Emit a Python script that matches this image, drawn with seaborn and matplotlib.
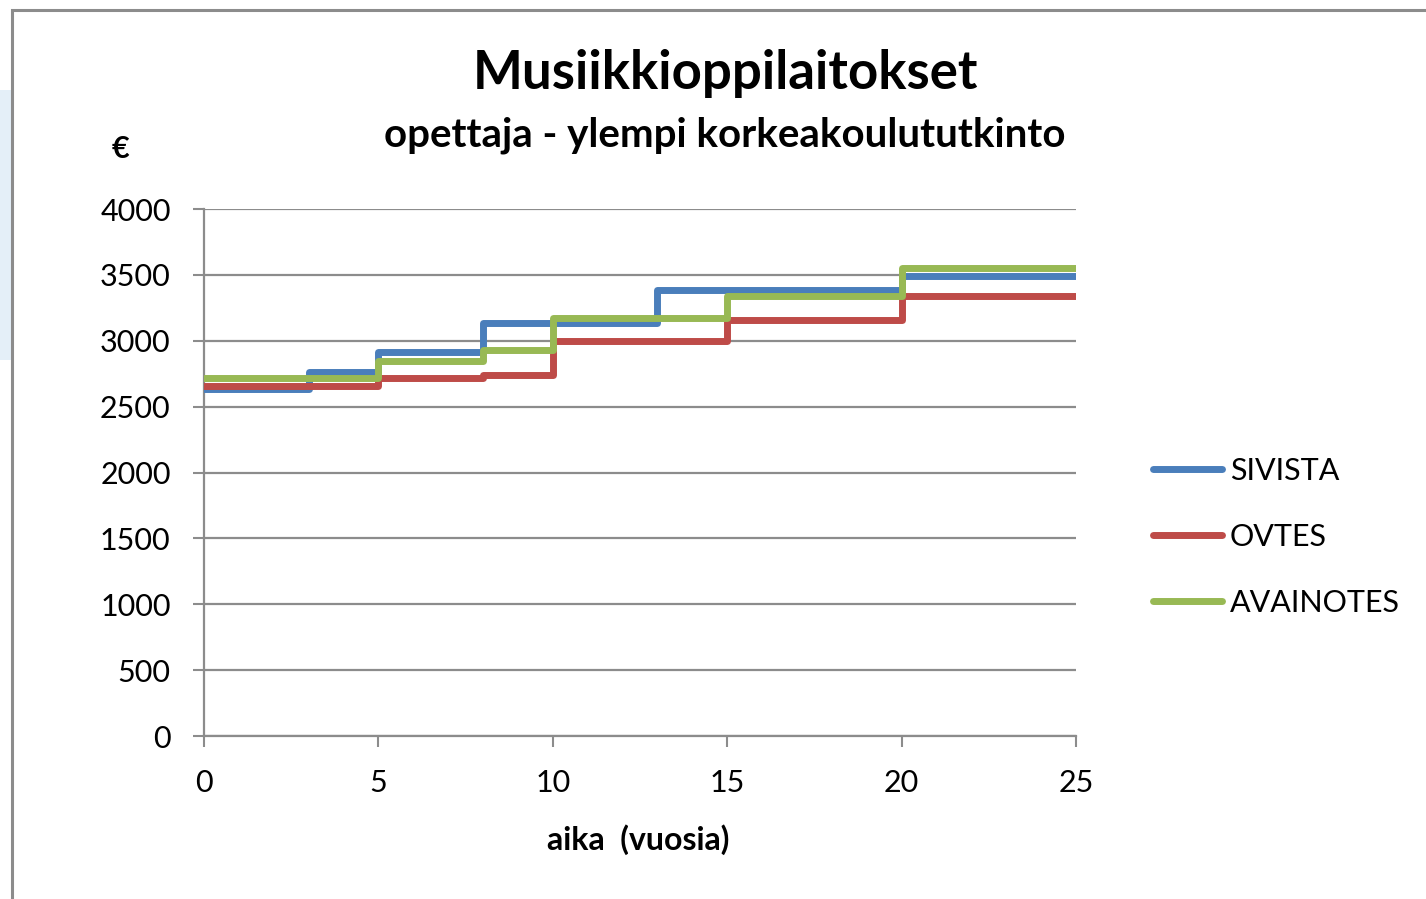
import pandas as pd
import numpy as np
import matplotlib
matplotlib.use("Agg")
import matplotlib.pyplot as plt
import seaborn as sns
from matplotlib.patches import Rectangle

# ==========================================
# Data (salary steps)
# ==========================================

years = [0, 3, 5, 8, 10, 13, 15, 20, 25]

sivista = [2630, 2760, 2915, 3135, 3135, 3385, 3385, 3490, 3490]
ovtes = [2655, 2655, 2720, 2740, 2995, 2995, 3155, 3340, 3340]
avainotes = [2715, 2715, 2845, 2930, 3170, 3170, 3340, 3550, 3550]

series_names = ["SIVISTA", "OVTES", "AVAINOTES"]
y_ticks = [0, 500, 1000, 1500, 2000, 2500, 3000, 3500, 4000]
x_ticks = [0, 5, 10, 15, 20, 25]

df = pd.DataFrame({
    "aika": years * 3,
    "palkka": sivista + ovtes + avainotes,
    "sarja": [n for n in series_names for _ in years],
})

palette = {
    "SIVISTA": "#4a7ebb",
    "OVTES": "#be4b48",
    "AVAINOTES": "#98b954",
}

# ==========================================
# Figure
# ==========================================

sns.set_theme(style="white")
plt.rcParams["font.family"] = ["Lato", "DejaVu Sans"]
plt.rcParams["text.color"] = "black"
plt.rcParams["axes.labelcolor"] = "black"

fig = plt.figure(figsize=(14.26, 8.99), dpi=100)

# light blue strip and chart frame
fig.patches.append(Rectangle((0, 1 - 360 / 899), 12 / 1426, 270 / 899,
                             transform=fig.transFigure, facecolor="#e4eff8",
                             edgecolor="none", zorder=0))
fig.patches.append(Rectangle((12 / 1426, -0.05), 1.1, 1 - 10 / 899 + 0.05,
                             transform=fig.transFigure, facecolor="none",
                             edgecolor="#8c8c8c", linewidth=2.2, zorder=1))

ax = fig.add_axes([204 / 1426, 1 - 736 / 899, 872 / 1426, 527 / 899])
ax.patch.set_alpha(0)

sns.lineplot(
    data=df,
    x="aika",
    y="palkka",
    hue="sarja",
    hue_order=series_names,
    palette=palette,
    drawstyle="steps-post",
    linewidth=5,
    ax=ax,
    zorder=3,
)

ax.set_xlim(0, 25)
ax.set_ylim(0, 4000)
ax.set_xticks(x_ticks)
ax.set_yticks(y_ticks)
ax.tick_params(axis="both", labelsize=22, colors="#8c8c8c", labelcolor="black",
               length=8, width=1.5, direction="out", left=True, bottom=True)
ax.tick_params(axis="x", pad=16)
ax.tick_params(axis="y", pad=16)

ax.yaxis.grid(True, color="#8c8c8c", linewidth=1.6)
ax.xaxis.grid(False)
ax.set_axisbelow(True)

for side in ["top", "right"]:
    ax.spines[side].set_visible(False)
for side in ["left", "bottom"]:
    ax.spines[side].set_color("#8c8c8c")
    ax.spines[side].set_linewidth(1.6)

ax.set_xlabel("aika  (vuosia)", fontsize=23, fontweight="bold")
ax.xaxis.set_label_coords(0.498, -0.168)
ax.set_ylabel("")

# titles and unit
fig.text(725 / 1426, 1 - 73 / 899, "Musiikkioppilaitokset", ha="center",
         va="center", fontsize=38, fontweight="bold")
fig.text(725 / 1426, 1 - 135 / 899, "opettaja - ylempi korkeakoulututkinto",
         ha="center", va="center", fontsize=29, fontweight="bold")
fig.text(120 / 1426, 1 - 149 / 899, "€", ha="center", va="center",
         fontsize=22, fontweight="bold")

# legend
handles, labels = ax.get_legend_handles_labels()
ax.legend(
    handles,
    labels,
    loc="center left",
    bbox_to_anchor=(1.057, 0.378),
    frameon=False,
    fontsize=22,
    handlelength=2.25,
    handletextpad=0.26,
    labelspacing=1.25,
)

fig.savefig("out.png", dpi=100)
